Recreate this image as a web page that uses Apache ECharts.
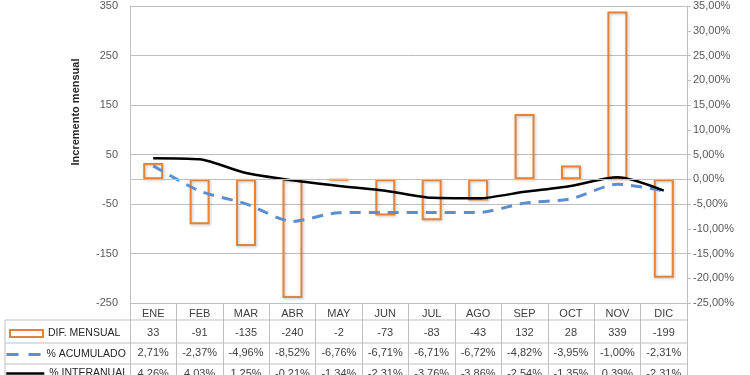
<!DOCTYPE html>
<html>
<head>
<meta charset="utf-8">
<script src="https://cdn.jsdelivr.net/npm/echarts@6/dist/echarts.min.js"></script>
<style>
  html, body { margin: 0; padding: 0; background: #fff; }
  #chart { width: 750px; height: 375px; }
</style>
</head>
<body>
<div id="chart"></div>
<script>
const months = ['ENE', 'FEB', 'MAR', 'ABR', 'MAY', 'JUN', 'JUL', 'AGO', 'SEP', 'OCT', 'NOV', 'DIC']
const difMensual = [33, -91, -135, -240, -2, -73, -83, -43, 132, 28, 339, -199]
const acumulado = [2.71, -2.37, -4.96, -8.52, -6.76, -6.71, -6.71, -6.72, -4.82, -3.95, -1.0, -2.31]
const interanual = [4.26, 4.03, 1.25, -0.21, -1.34, -2.31, -3.76, -3.86, -2.54, -1.35, 0.39, -2.31]

const GRID_LEFT = 130
const GRID_RIGHT = 63
const GRID_TOP = 6
const GRID_BOTTOM = 72
const FONT = '"Liberation Sans", Arial, sans-serif'
const LINE_GREY = '#BFBFBF'
const ORANGE = '#E2833A'
const BLUE = '#5B8FD0'

const pct = (v) => v.toFixed(2).replace('.', ',') + '%'

const chart = echarts.init(document.getElementById('chart'))

const rowLines = [320, 343, 364]
const chartRight = 750 - GRID_RIGHT

// una leyenda por fila de la tabla
const legendRow = (left, top, iconWidth, item) => ({
  orient: 'vertical',
  left,
  top,
  padding: 0,
  itemWidth: iconWidth,
  itemHeight: 7,
  selectedMode: false,
  textStyle: { fontSize: 10.5, color: '#262626', fontFamily: FONT },
  data: [item],
})

const option = {
  animation: false,
  textStyle: { fontFamily: FONT },
  grid: {
    left: GRID_LEFT,
    right: GRID_RIGHT,
    top: GRID_TOP,
    bottom: GRID_BOTTOM,
    outerBoundsMode: 'none',
  },
  legend: [
    legendRow(9, 328, 33, {
      name: 'DIF. MENSUAL',
      icon: 'rect',
      itemStyle: { color: '#fff', borderColor: ORANGE, borderWidth: 2 },
    }),
    legendRow(5, 349, 35, {
      name: '% ACUMULADO',
      itemStyle: { color: 'transparent', opacity: 0 },
      lineStyle: { type: [12, 10], width: 3, color: BLUE },
    }),
    legendRow(5, 368, 38, {
      name: '% INTERANUAL',
      itemStyle: { color: 'transparent', opacity: 0 },
      lineStyle: { width: 2.5, color: '#000' },
    }),
  ],
  xAxis: {
    type: 'category',
    data: months,
    position: 'bottom',
    axisLine: { onZero: false, lineStyle: { color: LINE_GREY } },
    axisTick: { show: true, length: 75, lineStyle: { color: LINE_GREY } },
    axisLabel: {
      margin: 1,
      interval: 0,
      color: '#404040',
      fontSize: 11,
      formatter: (val, idx) =>
        `{h|${val}}\n{v|${difMensual[idx]}}\n{a|${pct(acumulado[idx])}}\n{i|${pct(interanual[idx])}}`,
      rich: {
        h: { lineHeight: 20, fontSize: 11, color: '#404040' },
        v: { lineHeight: 18, fontSize: 11, color: '#404040' },
        a: { lineHeight: 22, fontSize: 11, color: '#404040' },
        i: { lineHeight: 20, fontSize: 11, color: '#404040' },
      },
    },
  },
  yAxis: [
    {
      type: 'value',
      min: -250,
      max: 350,
      interval: 100,
      axisLine: { show: true, lineStyle: { color: LINE_GREY } },
      axisTick: { show: false },
      axisLabel: { color: '#595959', fontSize: 11, margin: 12 },
      splitLine: { lineStyle: { color: LINE_GREY } },
    },
    {
      type: 'value',
      min: -25,
      max: 35,
      interval: 5,
      position: 'right',
      axisLine: { show: true, lineStyle: { color: LINE_GREY } },
      axisTick: { show: true, length: 4, lineStyle: { color: LINE_GREY } },
      axisLabel: { color: '#595959', fontSize: 11, margin: 6, formatter: pct },
      splitLine: { show: false },
    },
  ],
  graphic: [
    {
      type: 'text',
      x: 76,
      y: 112,
      rotation: Math.PI / 2,
      style: {
        text: 'Incremento mensual',
        font: `bold 11px ${FONT}`,
        fill: '#262626',
        align: 'center',
        verticalAlign: 'middle',
      },
    },
    // bordes de la tabla
    ...rowLines.map((y) => ({
      type: 'line',
      shape: { x1: 5, y1: y, x2: chartRight, y2: y },
      style: { stroke: LINE_GREY, lineWidth: 1 },
      silent: true,
    })),
    {
      type: 'line',
      shape: { x1: 5, y1: rowLines[0], x2: 5, y2: 376 },
      style: { stroke: LINE_GREY, lineWidth: 1 },
      silent: true,
    },
  ],
  series: [
    {
      name: 'DIF. MENSUAL',
      type: 'bar',
      data: difMensual,
      barWidth: '43%',
      itemStyle: {
        color: 'rgba(255,255,255,0)',
        borderColor: ORANGE,
        borderWidth: 2,
        shadowBlur: 3,
        shadowColor: 'rgba(0,0,0,0.25)',
        shadowOffsetX: 1,
        shadowOffsetY: 1,
      },
      markLine: {
        silent: true,
        symbol: 'none',
        label: { show: false },
        lineStyle: { color: LINE_GREY, type: 'solid', width: 1 },
        data: [{ yAxis: 0 }],
      },
    },
    {
      name: '% ACUMULADO',
      type: 'line',
      yAxisIndex: 1,
      data: acumulado,
      smooth: 0.25,
      symbol: 'none',
      lineStyle: { color: BLUE, width: 3, type: [11, 8] },
      itemStyle: { color: BLUE },
      z: 3,
    },
    {
      name: '% INTERANUAL',
      type: 'line',
      yAxisIndex: 1,
      data: interanual,
      smooth: 0.25,
      symbol: 'none',
      lineStyle: { color: '#000', width: 2.5 },
      itemStyle: { color: '#000' },
      z: 4,
    },
  ],
}

chart.setOption(option)
</script>
</body>
</html>
